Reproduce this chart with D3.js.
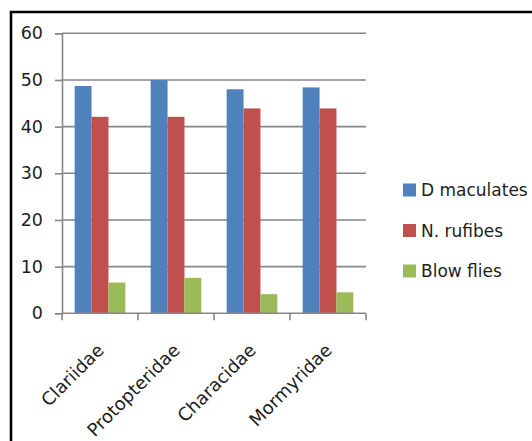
<!DOCTYPE html>
<html>
<head>
<meta charset="utf-8">
<script src="https://cdn.jsdelivr.net/npm/d3@7/dist/d3.min.js"></script>
<style>
  html, body { margin: 0; padding: 0; background: #fff; overflow: hidden; }
  svg { display: block; font-family: "DejaVu Sans", sans-serif; }
</style>
</head>
<body>
<svg id="chart" width="532" height="441"></svg>
<script>
// Families on the x axis
const categories = ["Clariidae", "Protopteridae", "Characidae", "Mormyridae"];
// Series names, in legend order
const seriesNames = ["D maculates", "N. rufibes", "Blow flies"];
// Values per series, one per family
const dMaculates = [48.7, 50.0, 48.0, 48.4];
const nRufibes = [42.1, 42.1, 43.9, 43.9];
const blowFlies = [6.6, 7.6, 4.1, 4.5];
const seriesValues = [dMaculates, nRufibes, blowFlies];
// Y axis ticks
const yTicks = [0, 10, 20, 30, 40, 50, 60];

const colors = ["#4F81BD", "#C0504D", "#9BBB59"];
const axisColor = "#878787";
const textColor = "#1e1e1e";

const svg = d3.select("#chart");

// Frame along the top and left edges
svg.append("path")
  .attr("d", "M11,441 L11,12 L532,12")
  .attr("fill", "none").attr("stroke", "#000").attr("stroke-width", 2.6);

const plot = { left: 62, right: 366, top: 33.3, bottom: 313.3 };

const x = d3.scaleBand().domain(categories).range([plot.left, plot.right]);
const xInner = d3.scaleBand().domain(seriesNames)
  .range([0, x.bandwidth()]).paddingOuter(0.75).paddingInner(0);
const y = d3.scaleLinear().domain([0, 60]).range([plot.bottom, plot.top]);

// Horizontal gridlines
svg.append("g").selectAll("line").data(yTicks.filter(t => t > 0)).join("line")
  .attr("x1", plot.left).attr("x2", plot.right)
  .attr("y1", d => y(d)).attr("y2", d => y(d))
  .attr("stroke", axisColor).attr("stroke-width", 1.6);

// Bars
const groups = svg.append("g").selectAll("g").data(categories).join("g")
  .attr("transform", c => `translate(${x(c)},0)`);
groups.selectAll("rect")
  .data((c, i) => seriesNames.map((s, k) => ({ s, k, v: seriesValues[k][i] })))
  .join("rect")
  .attr("x", d => xInner(d.s))
  .attr("width", xInner.bandwidth())
  .attr("y", d => y(d.v))
  .attr("height", d => y(0) - y(d.v))
  .attr("fill", d => colors[d.k]);

// Y axis
const yAxis = svg.append("g")
  .attr("transform", `translate(${plot.left},0)`)
  .call(d3.axisLeft(y).tickValues(yTicks).tickSize(7).tickPadding(12));
yAxis.select(".domain").attr("stroke", axisColor).attr("stroke-width", 1.6);
yAxis.selectAll(".tick line").attr("stroke", axisColor).attr("stroke-width", 1.6);
yAxis.selectAll("text").attr("fill", textColor)
  .style("font-size", "17.5px").style("font-family", "'DejaVu Sans', sans-serif");

// X axis with ticks at category boundaries
const xAxisG = svg.append("g").attr("transform", `translate(0,${plot.bottom})`);
xAxisG.append("line")
  .attr("x1", plot.left).attr("x2", plot.right)
  .attr("y1", 0).attr("y2", 0)
  .attr("stroke", axisColor).attr("stroke-width", 1.6);
const boundaries = categories.map(c => x(c)).concat([x.range()[1]]);
xAxisG.selectAll("line.tk").data(boundaries).join("line").attr("class", "tk")
  .attr("x1", d => d).attr("x2", d => d)
  .attr("y1", 0).attr("y2", 7)
  .attr("stroke", axisColor).attr("stroke-width", 1.6);
xAxisG.selectAll("text").data(categories).join("text")
  .attr("transform", c => `translate(${x(c) + x.bandwidth() / 2 + 5},38) rotate(-45)`)
  .attr("text-anchor", "end")
  .attr("fill", textColor)
  .style("font-size", "18px")
  .text(c => c);

// Legend
const legend = svg.append("g").selectAll("g").data(seriesNames).join("g")
  .attr("transform", (d, i) => `translate(403,${190 + i * 40.5})`);
legend.append("rect")
  .attr("x", 0).attr("y", -6.5).attr("width", 13).attr("height", 13)
  .attr("fill", (d, i) => colors[i]);
legend.append("text")
  .attr("x", 18).attr("y", 0).attr("dy", "0.36em")
  .attr("fill", textColor)
  .style("font-size", "17px")
  .text(d => d);
</script>
</body>
</html>
